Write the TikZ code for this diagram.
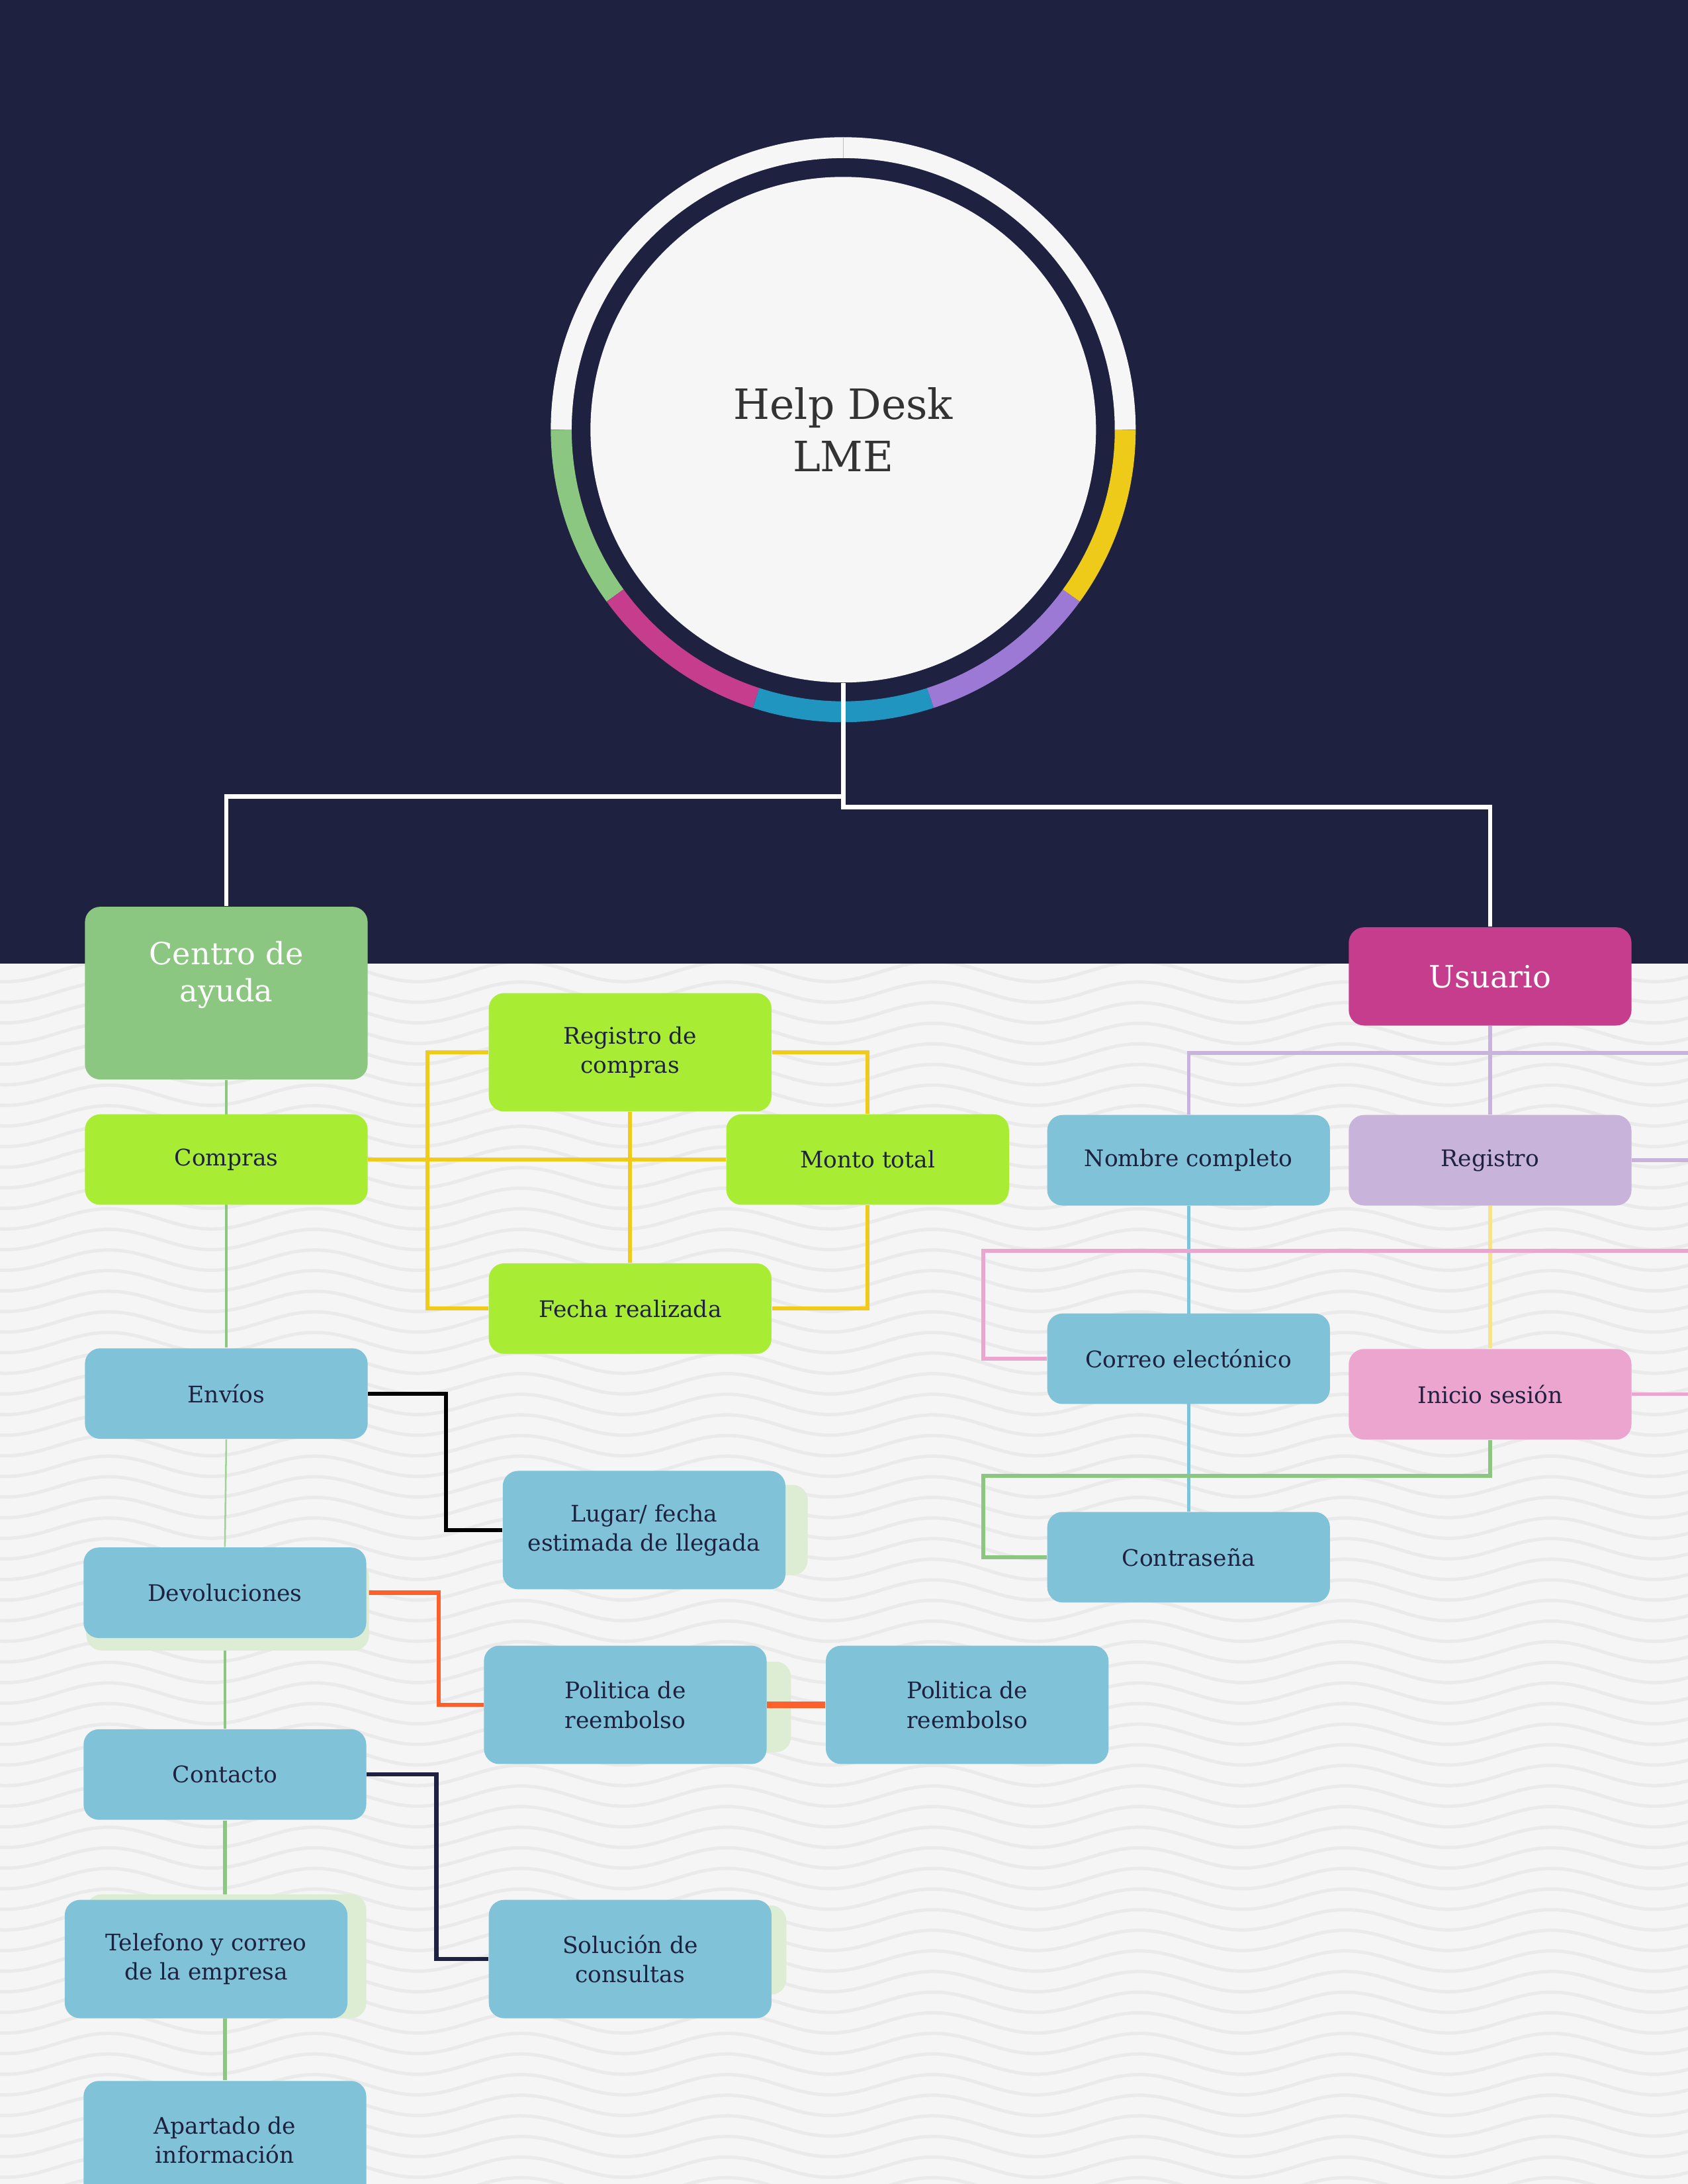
\documentclass[tikz,border=0pt]{standalone}
\usepackage{fontspec}
\setmainfont{DejaVu Serif}

\definecolor{deskNavy}{HTML}{1E2140}
\definecolor{deskPaper}{HTML}{F5F5F5}
\definecolor{deskWave}{HTML}{EAEAEA}
\definecolor{deskDisc}{HTML}{F6F6F6}
\definecolor{deskGreen}{HTML}{8BC780}
\definecolor{deskLime}{HTML}{A9EC34}
\definecolor{deskBlue}{HTML}{80C3D9}
\definecolor{deskLilac}{HTML}{C8B3DB}
\definecolor{deskPink}{HTML}{ECA5CE}
\definecolor{deskMagenta}{HTML}{C53D8C}
\definecolor{deskShadow}{HTML}{DDEDD3}
\definecolor{deskYellow}{HTML}{F2CA1A}
\definecolor{deskPale}{HTML}{F6E48C}
\definecolor{deskOrange}{HTML}{FF5F2A}
\definecolor{ringBlue}{HTML}{1F95C0}
\definecolor{ringPurple}{HTML}{9D79D6}
\definecolor{ringYellow}{HTML}{EFCB19}

\pgfdeclarelayer{back}
\pgfdeclarelayer{wires}
\pgfsetlayers{back,wires,main}

\tikzset{
    card/.style={rectangle, rounded corners=5.5pt, inner sep=2pt,
        minimum width=101.5pt, minimum height=32.5pt, align=center,
        text=deskNavy, font=\fontsize{8.2}{10.5}\selectfont},
    tall/.style={minimum height=42.5pt},
    head/.style={card, text=white, font=\fontsize{11}{13.5}\selectfont},
    hub/.style={circle, fill=deskDisc, minimum size=181.5pt, inner sep=0pt,
        align=center, text=black!80, font=\fontsize{15}{18.7}\selectfont},
    ring/.style={line width=7.5pt},
    shade/.style={fill=deskShadow, rounded corners=5.5pt},
    wave/.style={deskWave, line width=1.2pt},
    wire/.style={line width=1.5pt},
    thinwire/.style={line width=1.3pt},
}

\begin{document}
\begin{tikzpicture}[x=0.5pt, y=-0.5pt]
    \useasboundingbox (0,0) rectangle (1212,1568);

    % centre and the two branches
    \node[hub] (hub) at (605.5,308.5) {Help Desk\\LME};
    \node[head, fill=deskGreen, minimum height=62pt] (centro) at (162.5,713) {Centro de\\ayuda\\[2pt]\mbox{}};
    \node[head, fill=deskMagenta, minimum height=35.25pt] (usuario) at (1070,701) {Usuario};

    % shadows behind some cards
    \fill[shade] (370,1066) rectangle (580,1131);
    \fill[shade] (62,1121) rectangle (265,1185);
    \fill[shade] (360,1193) rectangle (568,1258);
    \fill[shade] (62,1360) rectangle (263,1449);
    \fill[shade] (360,1368) rectangle (564.6,1432);

    % left side
    \node[card, fill=deskLime] (compras) at (162.5,832.5) {Compras};
    \node[card, tall, fill=deskLime] (regCompras) at (452.5,755.5) {Registro de\\compras};
    \node[card, fill=deskLime] (monto) at (623,832.5) {Monto total};
    \node[card, fill=deskLime] (fecha) at (452.5,939.5) {Fecha realizada};
    \node[card, fill=deskBlue] (envios) at (162.5,1000.5) {Envíos};
    \node[card, tall, fill=deskBlue] (lugar) at (462.5,1098.5) {Lugar/ fecha\\estimada de llegada};
    \node[card, fill=deskBlue] (devol) at (161.5,1143.5) {Devoluciones};
    \node[card, tall, fill=deskBlue] (reembolsoA) at (449,1224) {Politica de\\reembolso};
    \node[card, tall, fill=deskBlue] (reembolsoB) at (694.5,1224) {Politica de\\reembolso};
    \node[card, fill=deskBlue] (contacto) at (161.5,1274) {Contacto};
    \node[card, tall, fill=deskBlue] (telefono) at (148,1406.5) {Telefono y correo\\de la empresa};
    \node[card, tall, fill=deskBlue] (solucion) at (452.5,1406.5) {Solución de\\consultas};
    \node[card, tall, fill=deskBlue] (apartado) at (161.5,1536.5) {Apartado de\\información};

    % right side
    \node[card, fill=deskBlue] (nombre) at (853.5,833) {Nombre completo};
    \node[card, fill=deskLilac] (registro) at (1070,833) {Registro};
    \node[card, fill=deskBlue] (correo) at (853.5,975.5) {Correo electónico};
    \node[card, fill=deskPink] (inicio) at (1070,1001) {Inicio sesión};
    \node[card, fill=deskBlue] (contrasena) at (853.5,1118) {Contraseña};

    \draw[deskOrange, line width=2.5pt] (reembolsoA.east) -- (reembolsoB.west);

    \begin{pgfonlayer}{back}
        \fill[deskPaper] (0,692) rectangle (1212,1568);
        \foreach \k in {0,...,61}
            \draw[wave] plot[domain=-10:1222, samples=130, smooth]
                (\x, {682.7+14.8*\k-7.3*cos(2.4324*(\x-78))});
        \fill[deskNavy] (0,0) rectangle (1212,692);
        \foreach \a/\b/\c in {0/180/deskDisc, 180/216/deskGreen, 216/252/deskMagenta,
                              252/288/ringBlue, 288/324/ringPurple, 324/360/ringYellow}
            \draw[ring, \c] (hub.center) ++(\a:101.25pt) arc[start angle=\a, end angle=\b, radius=101.25pt];
        \draw[black!25, line width=0.4pt] ([yshift=97.5pt]hub.center) -- ([yshift=105pt]hub.center);
    \end{pgfonlayer}

    \begin{pgfonlayer}{wires}
        \draw[wire, white] (hub.south) -- ++(0,89) -| (usuario.north);
        \draw[wire, white] (hub.south) ++(0,81.5) -| (centro.north);

        % trunk of the help centre
        \draw[deskGreen, line width=1pt] (centro.south) -- (envios.north);
        \draw[deskGreen!80, line width=0.6pt] (envios.south) -- (devol.north);
        \draw[deskGreen, line width=1pt] (devol.south) -- (contacto.north);
        \draw[deskGreen, line width=1.5pt] (contacto.south) -- (apartado.north);

        % purchases frame
        \coordinate (frameNW) at (307,755.5);
        \draw[wire, deskYellow] (regCompras.west) -- (frameNW) |- (fecha.west);
        \draw[wire, deskYellow] (regCompras.east) -| (monto.north);
        \draw[wire, deskYellow] (monto.south) |- (fecha.east);
        \draw[wire, deskYellow] (compras.east) -- (monto.west);
        \draw[wire, deskYellow] (regCompras.south) -- (fecha.north);

        \draw[wire, black] (envios.east) -- ++(56,0) |- (lugar.west);
        \draw[wire, deskOrange] (devol.east) -- ++(51.5,0) |- (reembolsoA.west);
        \draw[wire, deskNavy] (contacto.east) -- ++(50,0) |- (solucion.west);

        % user side
        \coordinate (lilacEnd) at (1214,756);
        \coordinate (pinkEnd) at (1214,898);
        \coordinate (pinkCorner) at (706,898);
        \coordinate (greenCorner) at (706,1059.5);
        \draw[thinwire, deskLilac] (usuario.south) -- (registro.north);
        \draw[thinwire, deskLilac] (nombre.north) |- (lilacEnd);
        \draw[thinwire, deskLilac] (registro.east) -- (registro.east -| lilacEnd);
        \draw[thinwire, deskBlue] (nombre.south) -- (contrasena.north);
        \draw[thinwire, deskPale] (registro.south) -- (inicio.north);
        \draw[thinwire, deskPink] (pinkEnd) -- (pinkCorner) |- (correo.west);
        \draw[thinwire, deskPink] (inicio.east) -- (inicio.east -| pinkEnd);
        \draw[thinwire, deskGreen] (inicio.south) |- (greenCorner) |- (contrasena.west);
    \end{pgfonlayer}
\end{tikzpicture}
\end{document}
